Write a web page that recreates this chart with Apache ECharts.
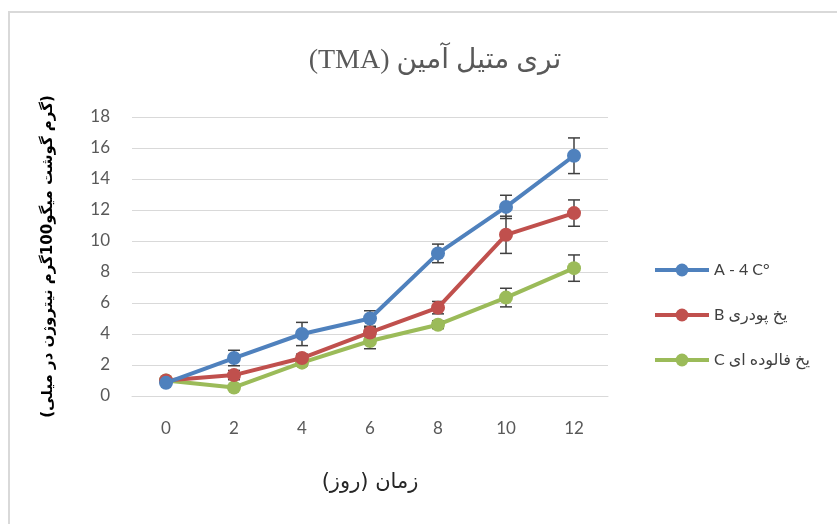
<!DOCTYPE html>
<html><head><meta charset="utf-8">
<script src="https://cdn.jsdelivr.net/npm/echarts@6/dist/echarts.min.js"></script>
<style>html,body{margin:0;padding:0;background:#fff}#c{width:837px;height:524px}</style>
</head><body><div id="c"></div>
<script>
const days = ['0','2','4','6','8','10','12'];
const seriesA = [0.85, 2.45, 4.0, 5.0, 9.2, 12.2, 15.5];
const errA    = [0.1, 0.5, 0.75, 0.5, 0.6, 0.75, 1.15];
const seriesB = [1.0, 1.35, 2.45, 4.1, 5.7, 10.4, 11.8];
const errB    = [0.1, 0.3, 0.25, 0.3, 0.4, 1.2, 0.85];
const seriesC = [1.0, 0.55, 2.15, 3.55, 4.6, 6.35, 8.25];
const errC    = [0.1, 0.15, 0.2, 0.5, 0.25, 0.6, 0.85];
const names = ['A - 4 C°', 'B یخ پودری', 'C یخ فالوده ای'];
const colors = ['#4F81BD', '#C0504D', '#9BBB59'];
const titleText = '(TMA) تری متیل آمین';
const xName = '\u200Fزمان (روز)\u200F';
const yName = '\u200F(گرم گوشت میگو100گرم نیتروژن در میلی)\u200F';

const chart = echarts.init(document.getElementById('c'));
function errSeries(vals, errs, z) {
  return {
    type: 'custom', z: z, silent: true,
    data: vals.map((v, i) => [i, v, errs[i]]),
    renderItem: function (params, api) {
      const i = api.value(0), v = api.value(1), e = api.value(2);
      const top = api.coord([i, v + e]);
      const bot = api.coord([i, v - e]);
      const w = 6;
      const st = {stroke: '#404040', lineWidth: 1.5};
      return {type: 'group', children: [
        {type: 'line', shape: {x1: top[0], y1: top[1], x2: bot[0], y2: bot[1]}, style: st},
        {type: 'line', shape: {x1: top[0]-w, y1: top[1], x2: top[0]+w, y2: top[1]}, style: st},
        {type: 'line', shape: {x1: bot[0]-w, y1: bot[1], x2: bot[0]+w, y2: bot[1]}, style: st}
      ]};
    }
  };
}
function lineSeries(name, vals, color, z) {
  return {
    name: name, type: 'line', data: vals, z: z,
    symbol: 'circle', symbolSize: 14,
    lineStyle: {color: color, width: 4},
    itemStyle: {color: color},
    emphasis: {disabled: true}
  };
}
chart.setOption({
  animation: false,
  title: {
    text: titleText, left: 430, top: 42, textAlign: 'center',
    textStyle: {fontFamily: 'Liberation Serif, DejaVu Sans, serif', fontSize: 28, fontWeight: 'normal', color: '#595959'}
  },
  graphic: [{
    type: 'rect', shape: {x: 9, y: 12, width: 900, height: 600},
    style: {fill: 'none', stroke: '#d9d9d9', lineWidth: 2}, z: -10
  }],
  legend: {
    orient: 'vertical', left: 648, top: 257, itemGap: 29,
    itemWidth: 54, itemHeight: 16,
    lineStyle: {width: 4},
    textStyle: {fontFamily: 'Lato, DejaVu Sans, sans-serif', fontSize: 16, color: '#404040'},
    data: names
  },
  grid: {left: 132, right: 229, top: 117, bottom: 128, containLabel: false},
  xAxis: {
    type: 'category', data: days, boundaryGap: true,
    axisLine: {show: true, lineStyle: {color: '#d9d9d9', width: 1}},
    axisTick: {show: false},
    axisLabel: {margin: 24, fontFamily: 'Lato, sans-serif', fontSize: 17, color: '#595959'},
    name: xName, nameLocation: 'middle', nameGap: 76,
    nameTextStyle: {fontFamily: 'DejaVu Sans, sans-serif', fontSize: 21, color: '#262626'}
  },
  yAxis: {
    type: 'value', min: 0, max: 18, interval: 2,
    axisLine: {show: false}, axisTick: {show: false},
    splitLine: {lineStyle: {color: '#d9d9d9', width: 1}},
    axisLabel: {margin: 22, fontFamily: 'Lato, sans-serif', fontSize: 17, color: '#595959'},
    name: yName, nameLocation: 'middle', nameGap: 76, nameRotate: 90,
    nameTextStyle: {fontFamily: 'DejaVu Sans, sans-serif', fontSize: 15, fontWeight: 'bold', color: '#000'}
  },
  series: [
    errSeries(seriesA, errA, 1),
    errSeries(seriesB, errB, 1),
    errSeries(seriesC, errC, 1),
    lineSeries(names[0], seriesA, colors[0], 4),
    lineSeries(names[1], seriesB, colors[1], 3),
    lineSeries(names[2], seriesC, colors[2], 2)
  ]
});
</script></body></html>
